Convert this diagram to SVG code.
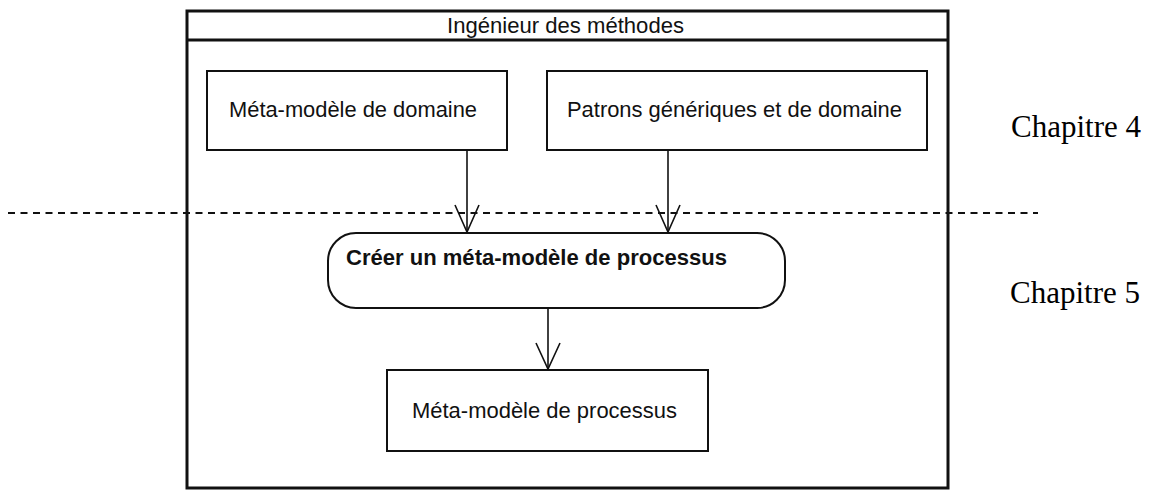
<svg xmlns="http://www.w3.org/2000/svg" width="1151" height="490" viewBox="0 0 1151 490">
<style>
.box{fill:#fff;stroke:#111;stroke-width:2}
.frame{fill:none;stroke:#111;stroke-width:3}
.t{font-family:"Liberation Sans",Arial,sans-serif;font-size:21.5px;fill:#111}
.b{font-family:"Liberation Sans",Arial,sans-serif;font-size:21.5px;font-weight:bold;fill:#111}
.ch{font-family:"Liberation Serif","Times New Roman",serif;font-size:31px;fill:#000}
.c{stroke:#111;stroke-width:1.6;fill:none}
</style>
<rect width="1151" height="490" fill="#fff"/>
<g id="swimlane">
<rect class="frame" x="187" y="11" width="761" height="477"/>
<line class="frame" x1="187" y1="40" x2="948" y2="40"/>
<text class="t" x="447" y="33" textLength="237" lengthAdjust="spacingAndGlyphs">Ingénieur des méthodes</text>
</g>
<g id="separator">
<line x1="8" y1="213" x2="1038" y2="213" stroke="#111" stroke-width="1.8" stroke-dasharray="7 5.5"/>
</g>
<g id="n1">
<rect class="box" x="207" y="71" width="300" height="79"/>
<text class="t" x="229" y="117" textLength="248" lengthAdjust="spacingAndGlyphs">Méta-modèle de domaine</text>
</g>
<g id="n2">
<rect class="box" x="547" y="71" width="380" height="79"/>
<text class="t" x="567" y="117" textLength="335" lengthAdjust="spacingAndGlyphs">Patrons génériques et de domaine</text>
</g>
<g id="n3">
<rect class="box" x="328" y="233" width="457" height="75" rx="28" ry="28"/>
<text class="b" x="346" y="265" textLength="381" lengthAdjust="spacingAndGlyphs">Créer un méta-modèle de processus</text>
</g>
<g id="n4">
<rect class="box" x="387" y="370" width="321" height="81"/>
<text class="t" x="412" y="418" textLength="265" lengthAdjust="spacingAndGlyphs">Méta-modèle de processus</text>
</g>
<g id="connectors">
<line class="c" x1="467" y1="150" x2="467" y2="233"/>
<polyline class="c" points="455,205 467,232 479,205"/>
<line class="c" x1="668" y1="150" x2="668" y2="233"/>
<polyline class="c" points="656,205 668,232 680,205"/>
<line class="c" x1="548" y1="308" x2="548" y2="370"/>
<polyline class="c" points="536,343 548,369 560,343"/>
</g>
<g id="labels">
<text class="ch" x="1011" y="137">Chapitre 4</text>
<text class="ch" x="1010" y="303">Chapitre 5</text>
</g>
</svg>
